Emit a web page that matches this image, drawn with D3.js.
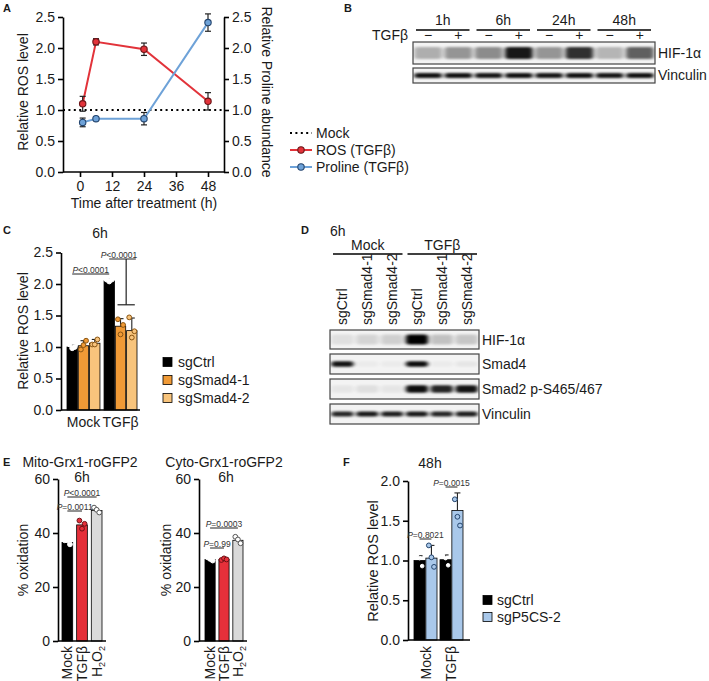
<!DOCTYPE html>
<html><head><meta charset="utf-8">
<script src="https://cdn.jsdelivr.net/npm/d3@7"></script>
<style>body{margin:0;background:#fff}</style>
</head><body>
<svg id="c" width="709" height="681"></svg>
<script>
// ---------------- DATA ----------------
// Panel A
const aTimes = [1, 6, 24, 48];
const aRos = [1.10, 2.10, 1.98, 1.14];
const aRosErr = [0.12, 0.05, 0.10, 0.14];
const aPro = [0.80, 0.86, 0.86, 2.41];
const aProErr = [0.07, 0.03, 0.10, 0.14];
const aXTicks = [0, 12, 24, 36, 48];
const aYTicks = [0, 0.5, 1.0, 1.5, 2.0, 2.5];
const aMock = 1.0;
const aLegend = ["Mock", "ROS (TGFβ)", "Proline (TGFβ)"];
// Panel B
const bTimes = ["1h", "6h", "24h", "48h"];
const bTreat = ["−", "+"];
const bHif = [0.28, 0.38, 0.42, 0.9, 0.38, 0.8, 0.25, 0.6];
const bVinc = [0.92, 0.92, 0.9, 0.92, 0.9, 0.92, 0.9, 0.92];
const bRows = ["HIF-1α", "Vinculin"];
// Panel C
const cGroups = ["Mock", "TGFβ"];
const cSeries = ["sgCtrl", "sgSmad4-1", "sgSmad4-2"];
const cMeans = [[1.00, 1.02, 1.06], [2.05, 1.33, 1.26]];
const cSD = [[0.03, 0.08, 0.06], [0.03, 0.12, 0.20]];
const cPts = [[[1.04, 0.98, 1.00], [0.96, 1.03, 1.10], [1.04, 1.04, 1.12]],
              [[2.07, 2.04, 2.07], [1.44, 1.20, 1.35], [1.47, 1.15, 1.25]]];
const cYTicks = [0, 0.5, 1.0, 1.5, 2.0, 2.5];
const cP = ["P<0.0001", "P<0.0001"];
// Panel D
const dGroups = ["Mock", "TGFβ"];
const dLanes = ["sgCtrl", "sgSmad4-1", "sgSmad4-2", "sgCtrl", "sgSmad4-1", "sgSmad4-2"];
const dRows = ["HIF-1α", "Smad4", "Smad2 p-S465/467", "Vinculin"];
const dHif = [0.08, 0.12, 0.14, 1.0, 0.2, 0.18];
const dSmad4 = [0.92, 0.03, 0.03, 0.95, 0.03, 0.05];
const dSmad2 = [0.05, 0.08, 0.05, 0.95, 0.85, 0.92];
const dVinc = [0.85, 0.9, 0.88, 0.9, 0.85, 0.88];
// Panel E
const eCats = ["Mock", "TGFβ", "H2O2"];
const eMitoMean = [36.5, 43.0, 48.3];
const eMitoPts = [[37.3, 37.3, 35.8], [44.6, 41.6, 43.4], [49.4, 48.6, 47.6]];
const eCytoMean = [30.2, 30.2, 37.3];
const eCytoPts = [[31.0, 30.4, 29.8], [30.0, 30.6, 30.2], [38.6, 37.6, 36.2]];
const eYTicks = [0, 20, 40, 60];
const eMitoP = ["P=0.0011", "P<0.0001"];
const eCytoP = ["P=0.99", "P=0.0003"];
// Panel F
const fGroups = ["Mock", "TGFβ"];
const fSeries = ["sgCtrl", "sgP5CS-2"];
const fMeans = [[1.00, 1.03], [1.01, 1.63]];
const fSD = [[0.06, 0.16], [0.06, 0.22]];
const fPts = [[[1.07, 1.03, 0.93], [1.19, 1.04, 0.92]],
              [[1.07, 1.03, 0.94], [1.77, 1.55, 1.44]]];
const fYTicks = [0, 0.5, 1.0, 1.5, 2.0];
const fP = ["P=0.8021", "P=0.0015"];

// ---------------- HELPERS ----------------
const FONT = "'Liberation Sans', Arial, Helvetica, sans-serif";
const INK = "#1a1a1a";
const svg = d3.select("#c");
const defs = svg.append("defs");
defs.append("filter").attr("id", "blur").attr("x", "-30%").attr("y", "-80%").attr("width", "160%").attr("height", "260%")
  .append("feGaussianBlur").attr("stdDeviation", "2 1.3");

function txt(x, y, s, o = {}) {
  const t = svg.append("text").text(s)
    .attr("font-family", FONT).attr("font-size", o.fs || 14)
    .attr("text-anchor", o.anchor || "start").attr("fill", o.fill || INK);
  if (o.bold) t.attr("font-weight", "bold");
  if (o.rot !== undefined) t.attr("transform", `translate(${x},${y}) rotate(${o.rot})`);
  else t.attr("x", x).attr("y", y);
  return t;
}
function styleAxis(g, fs) {
  g.selectAll(".domain").attr("stroke", "#000").attr("stroke-width", 1.6);
  g.selectAll(".tick line").attr("stroke", "#000").attr("stroke-width", 1.6);
  g.selectAll("text").attr("font-size", fs).attr("fill", INK).attr("font-family", FONT);
}
function hline(x1, x2, y, w = 1.6, c = "#000") {
  svg.append("line").attr("x1", x1).attr("x2", x2).attr("y1", y).attr("y2", y).attr("stroke", c).attr("stroke-width", w);
}
function vline(x, y1, y2, w = 1.6, c = "#000") {
  svg.append("line").attr("x1", x).attr("x2", x).attr("y1", y1).attr("y2", y2).attr("stroke", c).attr("stroke-width", w);
}
function pText(cx, y, s) {
  const t = svg.append("text").attr("x", cx).attr("y", y).attr("text-anchor", "middle")
    .attr("font-family", FONT).attr("font-size", 8.5).attr("fill", "#333");
  t.append("tspan").attr("font-style", "italic").text(s[0]);
  t.append("tspan").text(s.slice(1));
}
function sigLine(x1, x2, y, s) {
  hline(x1, x2, y, 1, "#222");
  pText((x1 + x2) / 2, y - 1.5, s);
}
function blot(x0, x1, y0, y1, vals, bandH, frac) {
  const id = "clip" + Math.round(x0) + "_" + Math.round(y0);
  defs.append("clipPath").attr("id", id).append("rect").attr("x", x0).attr("y", y0).attr("width", x1 - x0).attr("height", y1 - y0);
  const lane = d3.scaleBand().domain(d3.range(vals.length)).range([x0, x1]);
  const g = svg.append("g");
  g.append("rect").attr("x", x0).attr("y", y0).attr("width", x1 - x0).attr("height", y1 - y0).attr("fill", "#f3f3f3");
  const gb = g.append("g").attr("clip-path", `url(#${id})`);
  gb.selectAll("rect.band").data(vals).join("rect").attr("class", "band")
    .attr("x", (d, i) => lane(i) + lane.bandwidth() * (1 - frac) / 2)
    .attr("width", lane.bandwidth() * frac)
    .attr("y", (y0 + y1) / 2 - bandH / 2).attr("height", bandH)
    .attr("rx", 3).attr("fill", "#000").attr("opacity", d => d)
    .attr("filter", "url(#blur)");
  g.append("rect").attr("x", x0).attr("y", y0).attr("width", x1 - x0).attr("height", y1 - y0)
    .attr("fill", "none").attr("stroke", "#444").attr("stroke-width", 1.2);
  return lane;
}

// ---------------- PANEL A ----------------
txt(3, 12, "A", { bold: true, fs: 11 });
const xA = d3.scaleLinear().domain([0, 48]).range([80, 208]);
const yA = d3.scaleLinear().domain([0, 2.5]).range([172, 17]);
const axAL = svg.append("g").attr("transform", "translate(63,0)")
  .call(d3.axisLeft(yA).tickValues(aYTicks).tickFormat(d3.format(".1f")).tickSize(5).tickSizeOuter(0).tickPadding(3));
styleAxis(axAL, 14);
const axAR = svg.append("g").attr("transform", "translate(224,0)")
  .call(d3.axisRight(yA).tickValues(aYTicks).tickFormat(d3.format(".1f")).tickSize(5).tickSizeOuter(0).tickPadding(3));
styleAxis(axAR, 14);
const axAB = svg.append("g").attr("transform", "translate(0,172)")
  .call(d3.axisBottom(xA).tickValues(aXTicks).tickSize(5).tickPadding(4));
axAB.select(".domain").remove();
styleAxis(axAB, 14);
hline(63, 224, 172);
svg.append("line").attr("x1", 63).attr("x2", 224).attr("y1", yA(aMock)).attr("y2", yA(aMock))
  .attr("stroke", "#000").attr("stroke-width", 2).attr("stroke-dasharray", "2,3.4");
const seriesA = [
  { v: aRos, e: aRosErr, c: "#e2333a", s: "#6b1518" },
  { v: aPro, e: aProErr, c: "#6ea2d8", s: "#24456e" }
];
const lineA = d3.line().x(d => xA(d.t)).y(d => yA(d.v));
seriesA.forEach(S => {
  const data = aTimes.map((t, i) => ({ t, v: S.v[i], e: S.e[i] }));
  svg.append("path").datum(data).attr("d", lineA).attr("fill", "none").attr("stroke", S.c).attr("stroke-width", 2);
  data.forEach(d => {
    vline(xA(d.t), yA(d.v - d.e), yA(d.v + d.e), 1.2, "#222");
    hline(xA(d.t) - 3, xA(d.t) + 3, yA(d.v + d.e), 1.2, "#222");
    hline(xA(d.t) - 3, xA(d.t) + 3, yA(d.v - d.e), 1.2, "#222");
  });
  svg.append("g").selectAll("circle").data(data).join("circle")
    .attr("cx", d => xA(d.t)).attr("cy", d => yA(d.v)).attr("r", 3.2)
    .attr("fill", S.c).attr("stroke", S.s).attr("stroke-width", 1.1);
});
txt(28, 92, "Relative ROS level", { rot: -90, anchor: "middle", fs: 14 });
txt(262, 92, "Relative Proline abundance", { rot: 90, anchor: "middle", fs: 14 });
txt(144, 208, "Time after treatment (h)", { anchor: "middle", fs: 14 });
const legY = [133, 150, 167];
svg.append("line").attr("x1", 290).attr("x2", 312).attr("y1", legY[0]).attr("y2", legY[0])
  .attr("stroke", "#000").attr("stroke-width", 2).attr("stroke-dasharray", "2,3.4");
seriesA.forEach((S, i) => {
  hline(290, 312, legY[i + 1], 2, S.c);
  svg.append("circle").attr("cx", 301).attr("cy", legY[i + 1]).attr("r", 3.2).attr("fill", S.c).attr("stroke", S.s).attr("stroke-width", 1.1);
});
aLegend.forEach((s, i) => txt(316, legY[i] + 5, s, { fs: 14 }));

// ---------------- PANEL B ----------------
txt(344, 12, "B", { bold: true, fs: 11 });
const laneB = blot(413, 655, 42, 64, bHif, 12, 0.92);
blot(413, 655, 68, 83, bVinc, 5, 0.92);
bTimes.forEach((s, i) => {
  const xl = laneB(2 * i) + 3, xr = laneB(2 * i + 1) + laneB.bandwidth() - 4;
  txt((xl + xr) / 2, 25, s, { anchor: "middle", fs: 14 });
  hline(xl, xr, 30, 1.4);
});
txt(408, 40, "TGFβ", { anchor: "end", fs: 14 });
bHif.forEach((d, i) => txt(laneB(i) + laneB.bandwidth() / 2, 40, bTreat[i % 2], { anchor: "middle", fs: 14 }));
txt(658, 58, bRows[0], { fs: 14 });
txt(658, 80, bRows[1], { fs: 14 });

// ---------------- PANEL C ----------------
txt(3, 234, "C", { bold: true, fs: 11 });
txt(100, 238, "6h", { anchor: "middle", fs: 14 });
const yC = d3.scaleLinear().domain([0, 2.5]).range([410, 252.5]);
const xC0 = d3.scaleBand().domain(cGroups).range([67, 137]).paddingInner(0.11);
const xC1 = d3.scaleBand().domain(cSeries).range([0, xC0.bandwidth()]).paddingInner(0.08);
const cFill = ["#000000", "#f09a36", "#f8c47c"];
const cPtFill = ["#ffffff", "#f09a36", "#f8c47c"];
const cPtStroke = ["#ffffff", "#8a5512", "#8a5512"];
const cJit = [-2.6, 0, 2.6];
const axCL = svg.append("g").attr("transform", "translate(61,0)")
  .call(d3.axisLeft(yC).tickValues(cYTicks).tickFormat(d3.format(".1f")).tickSize(5).tickSizeOuter(0).tickPadding(3));
styleAxis(axCL, 14);
cGroups.forEach((g, gi) => {
  cSeries.forEach((s, si) => {
    const x = xC0(g) + xC1(s), w = xC1.bandwidth(), m = cMeans[gi][si];
    svg.append("rect").attr("x", x).attr("y", yC(m)).attr("width", w).attr("height", yC(0) - yC(m))
      .attr("fill", cFill[si]).attr("stroke", "#000").attr("stroke-width", 0.8);
    const cx = x + w / 2;
    vline(cx, yC(m), yC(m + cSD[gi][si]), 1.1, "#222");
    hline(cx - 3, cx + 3, yC(m + cSD[gi][si]), 1.1, "#222");
    cPts[gi][si].forEach((p, k) => svg.append("circle").attr("cx", cx + cJit[k]).attr("cy", yC(p)).attr("r", 2.4)
      .attr("fill", cPtFill[si]).attr("stroke", cPtStroke[si]).attr("stroke-width", 1));
  });
});
hline(61, 140, 410);
cGroups.forEach(g => txt(xC0(g) + xC0.bandwidth() / 2, 427, g, { anchor: "middle", fs: 14 }));
txt(28, 331, "Relative ROS level", { rot: -90, anchor: "middle", fs: 14 });
{
  const c0 = xC0("Mock") + xC1("sgCtrl") + xC1.bandwidth() / 2;
  const c1 = xC0("TGFβ") + xC1("sgCtrl") + xC1.bandwidth() / 2;
  const c2 = xC0("TGFβ") + xC1("sgSmad4-1") + xC1.bandwidth() / 2;
  const c3 = xC0("TGFβ") + xC1("sgSmad4-2") + xC1.bandwidth() / 2;
  sigLine(c0, c1, 274, cP[0]);
  hline(c1, c3 + 4, 259, 1, "#222");
  pText(119, 257.5, cP[1]);
  const mid = (c2 + c3) / 2;
  vline(mid, 259, yC(1.67), 1.2, "#222");
  hline(c2 - 3, c3 + 3, yC(1.67), 1.2, "#222");
}
cSeries.forEach((s, i) => {
  const y = [362, 380, 398][i];
  svg.append("rect").attr("x", 163).attr("y", y - 4.5).attr("width", 9).attr("height", 9)
    .attr("fill", cFill[i]).attr("stroke", "#000").attr("stroke-width", 0.8);
  txt(178, y + 5, s, { fs: 14 });
});

// ---------------- PANEL D ----------------
txt(301, 234, "D", { bold: true, fs: 11 });
txt(330, 236, "6h", { fs: 14 });
const dBoxes = [[330, 349, dHif, 10], [354, 374, dSmad4, 5.5], [379, 399, dSmad2, 7.5], [404, 424, dVinc, 5]];
let laneD;
dBoxes.forEach(([y0, y1, v, bh]) => { laneD = blot(330, 479, y0, y1, v, bh, 0.9); });
dGroups.forEach((g, gi) => {
  const xl = laneD(gi * 3) + 3, xr = laneD(gi * 3 + 2) + laneD.bandwidth() - 2;
  txt((xl + xr) / 2, 250, g, { anchor: "middle", fs: 14 });
  hline(xl, xr, 254, 1.4);
});
dLanes.forEach((s, i) => txt(laneD(i) + laneD.bandwidth() / 2 + 5, 325, s, { rot: -90, fs: 14 }));
dRows.forEach((s, i) => txt(482, [345, 369, 394, 419][i], s, { fs: 14 }));

// ---------------- PANEL E ----------------
txt(3, 466, "E", { bold: true, fs: 11 });
const yE = d3.scaleLinear().domain([0, 60]).range([641, 479]);
const eFill = ["#000000", "#e5303a", "#d9d9d9"];
const ePtFill = ["#ffffff", "#e5303a", "#ffffff"];
const ePtStroke = ["#ffffff", "#6e1015", "#555555"];
const eJit = [-2.6, 0, 2.6];
function ePanel(ax, x0, x1, means, pts, title, titleX) {
  const xb = d3.scaleBand().domain(eCats).range([x0, x1]).paddingInner(0.27);
  const g = svg.append("g").attr("transform", `translate(${ax},0)`)
    .call(d3.axisLeft(yE).tickValues(eYTicks).tickSize(5).tickSizeOuter(0).tickPadding(3));
  styleAxis(g, 14);
  eCats.forEach((c, i) => {
    svg.append("rect").attr("x", xb(c)).attr("y", yE(means[i])).attr("width", xb.bandwidth()).attr("height", yE(0) - yE(means[i]))
      .attr("fill", eFill[i]).attr("stroke", "#000").attr("stroke-width", 0.8);
    const cx = xb(c) + xb.bandwidth() / 2;
    pts[i].forEach((p, k) => svg.append("circle").attr("cx", cx + eJit[k]).attr("cy", yE(p)).attr("r", 2.4)
      .attr("fill", ePtFill[i]).attr("stroke", ePtStroke[i]).attr("stroke-width", 1));
  });
  hline(ax, x1 + 4, 641);
  eCats.forEach((c, i) => {
    const cx = xb(c) + xb.bandwidth() / 2 + 5;
    const t = svg.append("text").attr("transform", `translate(${cx},646) rotate(-90)`).attr("text-anchor", "end")
      .attr("font-family", FONT).attr("font-size", 14).attr("fill", INK);
    if (c === "H2O2") {
      t.append("tspan").text("H");
      t.append("tspan").text("2").attr("font-size", 9).attr("dy", 3);
      t.append("tspan").text("O").attr("dy", -3);
      t.append("tspan").text("2").attr("font-size", 9).attr("dy", 3);
    } else t.text(c);
  });
  txt(titleX, 467, title, { anchor: "middle", fs: 14 });
  txt(titleX + 2, 482, "6h", { anchor: "middle", fs: 14 });
  return eCats.map(c => xb(c) + xb.bandwidth() / 2);
}
const ccM = ePanel(58, 62, 102, eMitoMean, eMitoPts, "Mito-Grx1-roGFP2", 80);
sigLine(ccM[0], ccM[1], 511, eMitoP[0]);
sigLine(ccM[0], ccM[2], 497, eMitoP[1]);
const ccC = ePanel(199, 205, 243, eCytoMean, eCytoPts, "Cyto-Grx1-roGFP2", 224);
sigLine(ccC[0], ccC[1], 548, eCytoP[0]);
sigLine(ccC[0], ccC[2], 528, eCytoP[1]);
txt(28, 560, "% oxidation", { rot: -90, anchor: "middle", fs: 14 });
txt(171, 560, "% oxidation", { rot: -90, anchor: "middle", fs: 14 });

// ---------------- PANEL F ----------------
txt(343, 466, "F", { bold: true, fs: 11 });
txt(430, 468, "48h", { anchor: "middle", fs: 14 });
const yF = d3.scaleLinear().domain([0, 2]).range([640, 481]);
const xF0 = d3.scaleBand().domain(fGroups).range([414, 463]).paddingInner(0.115);
const xF1 = d3.scaleBand().domain(fSeries).range([0, xF0.bandwidth()]).paddingInner(0.06);
const fFill = ["#000000", "#a9c8ea"];
const fPtFill = ["#ffffff", "#a9c8ea"];
const fPtStroke = ["#ffffff", "#24456e"];
const axF = svg.append("g").attr("transform", "translate(408,0)")
  .call(d3.axisLeft(yF).tickValues(fYTicks).tickFormat(d3.format(".1f")).tickSize(5).tickSizeOuter(0).tickPadding(3));
styleAxis(axF, 14);
const fc = {};
fGroups.forEach((g, gi) => {
  fSeries.forEach((s, si) => {
    const x = xF0(g) + xF1(s), w = xF1.bandwidth(), m = fMeans[gi][si];
    svg.append("rect").attr("x", x).attr("y", yF(m)).attr("width", w).attr("height", yF(0) - yF(m))
      .attr("fill", fFill[si]).attr("stroke", "#000").attr("stroke-width", 0.8);
    const cx = x + w / 2;
    fc[g + si] = cx;
    vline(cx, yF(m), yF(m + fSD[gi][si]), 1.1, "#222");
    hline(cx - 3, cx + 3, yF(m + fSD[gi][si]), 1.1, "#222");
    fPts[gi][si].forEach((p, k) => svg.append("circle").attr("cx", cx + cJit[k]).attr("cy", yF(p)).attr("r", si ? 2.4 : 1.8)
      .attr("fill", fPtFill[si]).attr("stroke", fPtStroke[si]).attr("stroke-width", 1));
  });
});
hline(408, 470, 640);
fGroups.forEach(g => {
  const cx = xF0(g) + xF0.bandwidth() / 2 + 5;
  svg.append("text").attr("transform", `translate(${cx},646) rotate(-90)`).attr("text-anchor", "end")
    .attr("font-family", FONT).attr("font-size", 14).attr("fill", INK).text(g);
});
sigLine(fc["Mock0"], fc["Mock1"], 539, fP[0]);
sigLine(fc["TGFβ0"], fc["TGFβ1"], 487, fP[1]);
txt(378, 561, "Relative ROS level", { rot: -90, anchor: "middle", fs: 14.5 });
fSeries.forEach((s, i) => {
  const y = [600, 617][i];
  svg.append("rect").attr("x", 483).attr("y", y - 4.5).attr("width", 9).attr("height", 9)
    .attr("fill", fFill[i]).attr("stroke", "#000").attr("stroke-width", 0.8);
  txt(497, y + 5, s, { fs: 14 });
});
</script>
</body></html>
